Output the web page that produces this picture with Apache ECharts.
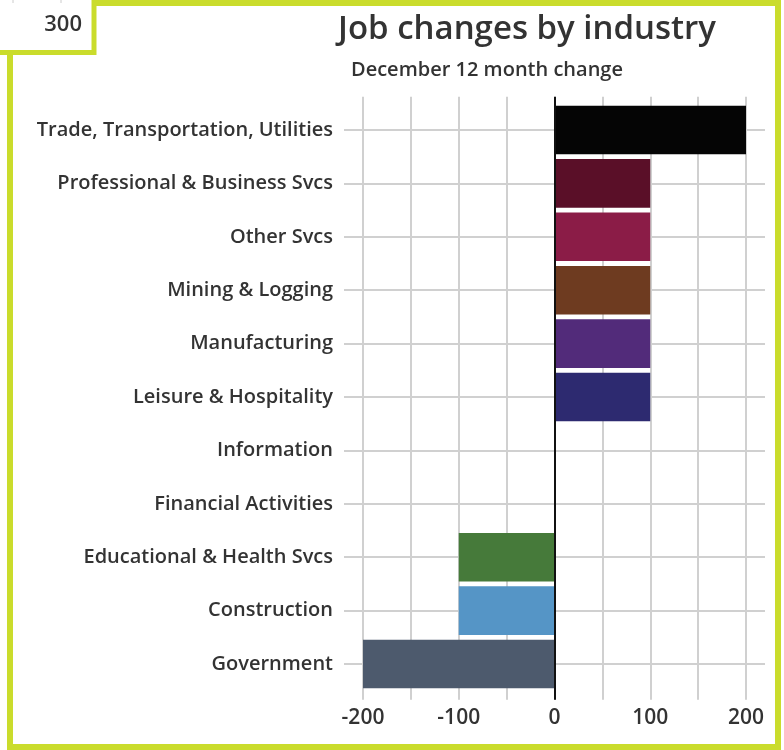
<!DOCTYPE html>
<html>
<head>
<meta charset="utf-8">
<script src="https://cdn.jsdelivr.net/npm/echarts@6/dist/echarts.min.js"></script>
<style>
html,body{margin:0;padding:0;background:#fff;}
#chart{width:784px;height:750px;}
</style>
</head>
<body>
<div id="chart"></div>
<script>
const categories = [
  'Trade, Transportation, Utilities',
  'Professional & Business Svcs',
  'Other Svcs',
  'Mining & Logging',
  'Manufacturing',
  'Leisure & Hospitality',
  'Information',
  'Financial Activities',
  'Educational & Health Svcs',
  'Construction',
  'Government'
];
const values = [200, 100, 100, 100, 100, 100, 0, 0, -100, -100, -200];
const barColors = ['#050505', '#5a0f28', '#8b1c47', '#6e3b20', '#522b7a', '#2d2a70',
                   '#888888', '#888888', '#467a3a', '#5595c6', '#4d5a6d'];
const xTickLabels = ['-200', '-100', '0', '100', '200'];
const titleText = 'Job changes by industry';
const subtitleText = 'December 12 month change';
const cornerText = '300';

const FONT = '"Open Sans", Lato, sans-serif';
const GREEN = '#cadc2c';

const chart = echarts.init(document.getElementById('chart'), null, {renderer: 'canvas'});
chart.setOption({
  backgroundColor: '#fff',
  animation: false,
  title: [
    {text: titleText, right: 63, top: 8,
     textStyle: {fontFamily: FONT, fontSize: 33, fontWeight: 600, color: '#333'}},
    {text: subtitleText, left: 346, top: 55,
     textStyle: {fontFamily: FONT, fontSize: 20, fontWeight: 600, color: '#333'}}
  ],
  grid: {left: 363, right: 38, top: 103.3, bottom: 59.3, containLabel: false},
  xAxis: [
    {type: 'value', min: -200, max: 200, interval: 50, position: 'bottom', offset: 9,
     axisLine: {show: false},
     axisTick: {show: true, inside: true, length: 603, lineStyle: {color: '#d0d0d0', width: 2}},
     splitLine: {show: false},
     axisLabel: {margin: 8, fontFamily: FONT, fontSize: 21, fontWeight: 600, color: '#333',
       formatter: v => xTickLabels.indexOf(String(v)) >= 0 ? String(v) : ''}},
    {type: 'value', min: -200, max: 200, position: 'bottom', offset: 9, z: 10,
     axisLine: {show: false}, splitLine: {show: false},
     axisLabel: {show: false},
     axisTick: {show: true, inside: true, length: 603, customValues: [0],
       lineStyle: {color: '#111', width: 2}}}
  ],
  yAxis: {
    type: 'category', data: categories, inverse: true, offset: 19,
    axisLine: {show: false, onZero: false},
    axisTick: {show: true, alignWithLabel: true, inside: true, length: 421,
      lineStyle: {color: '#d0d0d0', width: 2}},
    splitLine: {show: false},
    axisLabel: {margin: 11, fontFamily: FONT, fontSize: 20, fontWeight: 600, color: '#333'}
  },
  series: [{
    type: 'bar',
    xAxisIndex: 0,
    data: values.map((v, i) => ({value: v, itemStyle: {color: barColors[i]}})),
    barCategoryGap: '9%'
  }],
  graphic: [
    {type: 'rect', z: 100, shape: {x: 10, y: 3, width: 768, height: 744},
     style: {fill: 'none', stroke: GREEN, lineWidth: 6}},
    {type: 'rect', z: 101, shape: {x: 0, y: 0, width: 94, height: 52},
     style: {fill: '#fff', stroke: null}},
    {type: 'line', z: 102, shape: {x1: 94, y1: 0, x2: 94, y2: 55},
     style: {stroke: GREEN, lineWidth: 5}},
    {type: 'line', z: 102, shape: {x1: 0, y1: 52.5, x2: 96, y2: 52.5},
     style: {stroke: GREEN, lineWidth: 5}},
    {type: 'line', z: 102, shape: {x1: 13, y1: 0, x2: 13, y2: 3},
     style: {stroke: '#ccc', lineWidth: 1}},
    {type: 'line', z: 102, shape: {x1: 61, y1: 0, x2: 61, y2: 3},
     style: {stroke: '#ccc', lineWidth: 1}},
    {type: 'text', z: 103, x: 82, y: 25,
     style: {text: cornerText, fontFamily: FONT, fontSize: 22, fontWeight: 600, fill: '#333',
       align: 'right', verticalAlign: 'middle'}}
  ]
});
</script>
</body>
</html>
